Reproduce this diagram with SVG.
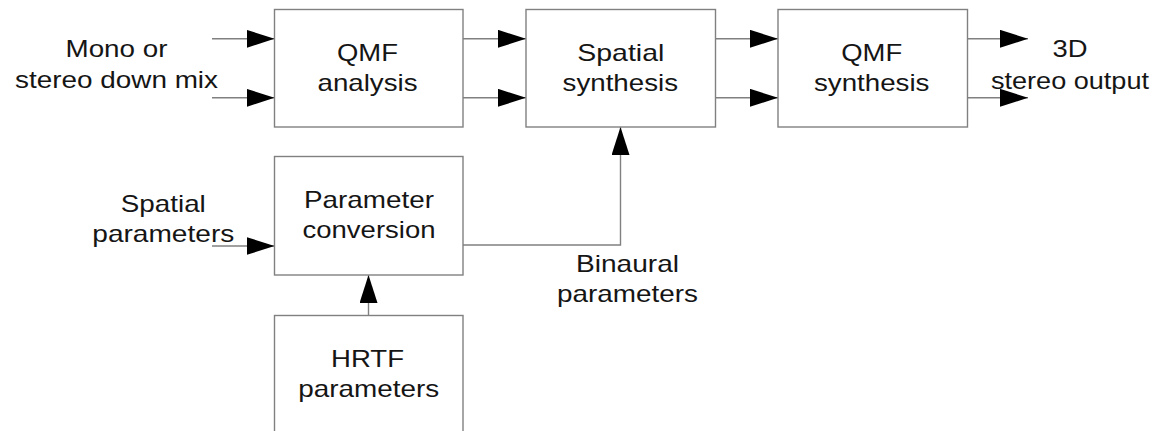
<svg xmlns="http://www.w3.org/2000/svg" width="1157" height="431" viewBox="0 0 1157 431">
  <style>
    .box { fill: #ffffff; stroke: #808080; stroke-width: 1.4; }
    .wire { fill: none; stroke: #808080; stroke-width: 1.4; marker-end: url(#arrow); }
    text { font-family: "Liberation Sans", Arial, sans-serif; font-size: 24px; fill: #151515; text-anchor: middle; }
  </style>
  <defs>
    <marker id="arrow" markerUnits="userSpaceOnUse" markerWidth="28" markerHeight="18" refX="28" refY="9" orient="auto">
      <path d="M0,0 L28,9 L0,18 Z" fill="#000000"/>
    </marker>
  </defs>
  <rect width="1157" height="431" fill="#ffffff"/>

  <!-- connectors -->
  <g id="connectors">
    <path class="wire" d="M212,38.8 H274.5"/>
    <path class="wire" d="M212,97.8 H274.5"/>
    <path class="wire" d="M463,38.8 H526"/>
    <path class="wire" d="M463,97.8 H526"/>
    <path class="wire" d="M715.5,38.8 H778"/>
    <path class="wire" d="M715.5,97.8 H778"/>
    <path class="wire" d="M967.5,38.8 H1028"/>
    <path class="wire" d="M967.5,97.8 H1028"/>
    <path class="wire" d="M212,246 H274.5"/>
    <path class="wire" d="M463,245 H620.5 V127"/>
    <path class="wire" d="M368.5,315.5 V275"/>
  </g>

  <!-- external labels -->
  <g id="input-label">
    <text x="116.5" y="56.7" textLength="102" lengthAdjust="spacingAndGlyphs">Mono or</text>
    <text x="116.5" y="88.3" textLength="203" lengthAdjust="spacingAndGlyphs">stereo down mix</text>
  </g>
  <g id="output-label">
    <text x="1070" y="57" textLength="35" lengthAdjust="spacingAndGlyphs">3D</text>
    <text x="1070" y="88.5" textLength="158" lengthAdjust="spacingAndGlyphs">stereo output</text>
  </g>
  <g id="spatial-params-label">
    <text x="163.3" y="211.7" textLength="85" lengthAdjust="spacingAndGlyphs">Spatial</text>
    <text x="163.3" y="241.7" textLength="142" lengthAdjust="spacingAndGlyphs">parameters</text>
  </g>
  <g id="binaural-label">
    <text x="627.5" y="271.7" textLength="103" lengthAdjust="spacingAndGlyphs">Binaural</text>
    <text x="627.5" y="301.7" textLength="141" lengthAdjust="spacingAndGlyphs">parameters</text>
  </g>

  <!-- processing blocks -->
  <g id="qmf-analysis">
    <rect class="box" x="274.5" y="9.5" width="188.5" height="117.5"/>
    <text x="367.5" y="60.5" textLength="61" lengthAdjust="spacingAndGlyphs">QMF</text>
    <text x="367.5" y="90.5" textLength="100" lengthAdjust="spacingAndGlyphs">analysis</text>
  </g>
  <g id="spatial-synthesis">
    <rect class="box" x="526" y="9.5" width="189.5" height="117.5"/>
    <text x="620.8" y="60.5" textLength="87" lengthAdjust="spacingAndGlyphs">Spatial</text>
    <text x="620.3" y="90.5" textLength="115.5" lengthAdjust="spacingAndGlyphs">synthesis</text>
  </g>
  <g id="qmf-synthesis">
    <rect class="box" x="778" y="9.5" width="189.5" height="117.5"/>
    <text x="871.7" y="60.5" textLength="61" lengthAdjust="spacingAndGlyphs">QMF</text>
    <text x="871.7" y="90.5" textLength="115.5" lengthAdjust="spacingAndGlyphs">synthesis</text>
  </g>
  <g id="parameter-conversion">
    <rect class="box" x="274.5" y="156.5" width="188.5" height="118.5"/>
    <text x="369" y="208.3" textLength="130" lengthAdjust="spacingAndGlyphs">Parameter</text>
    <text x="369" y="238.3" textLength="133" lengthAdjust="spacingAndGlyphs">conversion</text>
  </g>
  <g id="hrtf-parameters">
    <rect class="box" x="274.5" y="315.5" width="188.5" height="150"/>
    <text x="367.5" y="367.3" textLength="73" lengthAdjust="spacingAndGlyphs">HRTF</text>
    <text x="368.8" y="397.3" textLength="141" lengthAdjust="spacingAndGlyphs">parameters</text>
  </g>
</svg>
